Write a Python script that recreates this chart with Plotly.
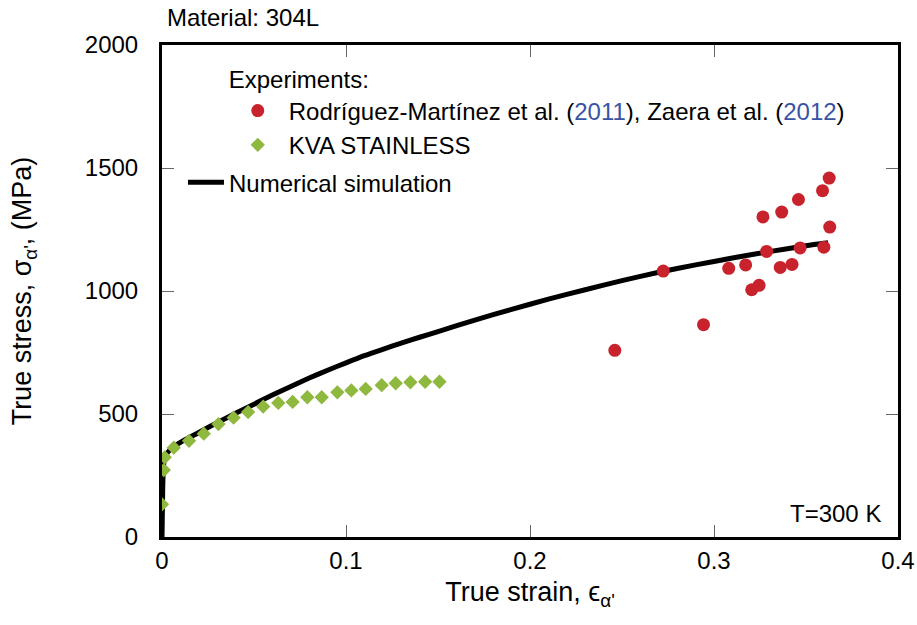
import plotly.graph_objects as go

FONT = "Liberation Sans, Arial, sans-serif"

# Numerical simulation
sim_strain = [0.0, 0.0003, 0.0008, 0.002, 0.005, 0.01, 0.02, 0.03, 0.04, 0.05,
              0.06, 0.07, 0.08, 0.09, 0.10, 0.11, 0.12, 0.13, 0.14, 0.15,
              0.17, 0.19, 0.21, 0.23, 0.25, 0.27, 0.29, 0.31, 0.33, 0.35, 0.362]
sim_stress = [0, 150, 290, 330, 360, 385, 425, 465, 503, 540,
              577, 612, 646, 678, 708, 737, 763, 788, 812, 835,
              882, 925, 967, 1005, 1042, 1076, 1106, 1134, 1160, 1184, 1196]

# KVA STAINLESS
kva_strain = [0.0, 0.001, 0.0015, 0.0064, 0.0147, 0.0227, 0.0307, 0.0389, 0.0468,
              0.055, 0.0632, 0.071, 0.079, 0.0868, 0.0953, 0.1029, 0.1107,
              0.1194, 0.127, 0.135, 0.143, 0.1508]
kva_stress = [133, 272, 324, 363, 391, 420, 459, 485, 508,
              530, 545, 549, 568, 568, 588, 596, 602,
              617, 625, 629, 631, 631]

# Rodríguez-Martínez et al. (2011), Zaera et al. (2012)
exp_strain = [0.2461, 0.2724, 0.2943, 0.308, 0.3172, 0.3205, 0.3245, 0.3266, 0.3286,
              0.336, 0.3368, 0.3424, 0.3459, 0.3468, 0.359, 0.3597, 0.3626, 0.3629]
exp_stress = [759, 1081, 863, 1092, 1106, 1005, 1023, 1301, 1161,
              1096, 1321, 1108, 1372, 1175, 1408, 1178, 1459, 1260]

x_ticks = [0, 0.1, 0.2, 0.3, 0.4]
x_tick_labels = ["0", "0.1", "0.2", "0.3", "0.4"]
y_ticks = [0, 500, 1000, 1500, 2000]
y_tick_labels = ["0", "500", "1000", "1500", "2000"]

RED = "#c8232c"
GREEN = "#8fb83e"
BLUE = "#3953a4"

fig = go.Figure()

fig.add_trace(go.Scatter(
    x=sim_strain, y=sim_stress, mode="lines",
    line=dict(color="black", width=5, shape="spline", smoothing=0.6),
    name="Numerical simulation", legend="legend2"))

fig.add_trace(go.Scatter(
    x=kva_strain, y=kva_stress, mode="markers",
    marker=dict(symbol="diamond", color=GREEN, size=11),
    name="KVA STAINLESS", legend="legend", legendrank=2))

fig.add_trace(go.Scatter(
    x=exp_strain, y=exp_stress, mode="markers",
    marker=dict(symbol="circle", color=RED, size=13),
    name=("Rodríguez-Martínez et al. (<span style='color:%s'>2011</span>), "
          "Zaera et al. (<span style='color:%s'>2012</span>)") % (BLUE, BLUE),
    legend="legend", legendrank=1))

axis_common = dict(
    showline=True, linecolor="black", linewidth=3, mirror="ticks",
    ticks="inside", ticklen=12, tickwidth=1, tickcolor="#666666",
    showgrid=False, zeroline=False,
    tickfont=dict(family=FONT, size=24, color="black"),
)

fig.update_layout(
    width=917, height=625,
    margin=dict(l=162, r=19, t=45, b=88, autoexpand=False),
    paper_bgcolor="white", plot_bgcolor="white",
    font=dict(family=FONT, size=24, color="black"),
    xaxis=dict(range=[0, 0.4], tickvals=x_ticks, ticktext=x_tick_labels,
               ticklabelstandoff=0,
               title=dict(text="True strain, ϵ<sub>α'</sub>",
                          font=dict(family=FONT, size=27), standoff=10),
               **axis_common),
    yaxis=dict(range=[0, 2000], tickvals=y_ticks, ticktext=y_tick_labels,
               ticklabelstandoff=16,
               title=dict(text="True stress, σ<sub>α'</sub>, (MPa)",
                          font=dict(family=FONT, size=27), standoff=46),
               **axis_common),
    legend=dict(x=0.088, y=0.975, xanchor="left", yanchor="top",
                bgcolor="rgba(0,0,0,0)", borderwidth=0,
                title=dict(text="Experiments:", font=dict(family=FONT, size=24)),
                font=dict(family=FONT, size=24), itemwidth=52,
                traceorder="normal"),
    legend2=dict(x=0.0285, y=0.766, xanchor="left", yanchor="top",
                 bgcolor="rgba(0,0,0,0)", borderwidth=0, itemwidth=36,
                 font=dict(family=FONT, size=24)),
    showlegend=True,
    annotations=[
        dict(text="Material: 304L", xref="paper", yref="paper",
             x=0.004, y=1.055, xanchor="left", yanchor="middle",
             showarrow=False, font=dict(family=FONT, size=24)),
        dict(text="T=300 K", xref="paper", yref="paper",
             x=0.98, y=0.047, xanchor="right", yanchor="middle",
             showarrow=False, font=dict(family=FONT, size=24)),
    ],
)

fig.write_html("out.html")
